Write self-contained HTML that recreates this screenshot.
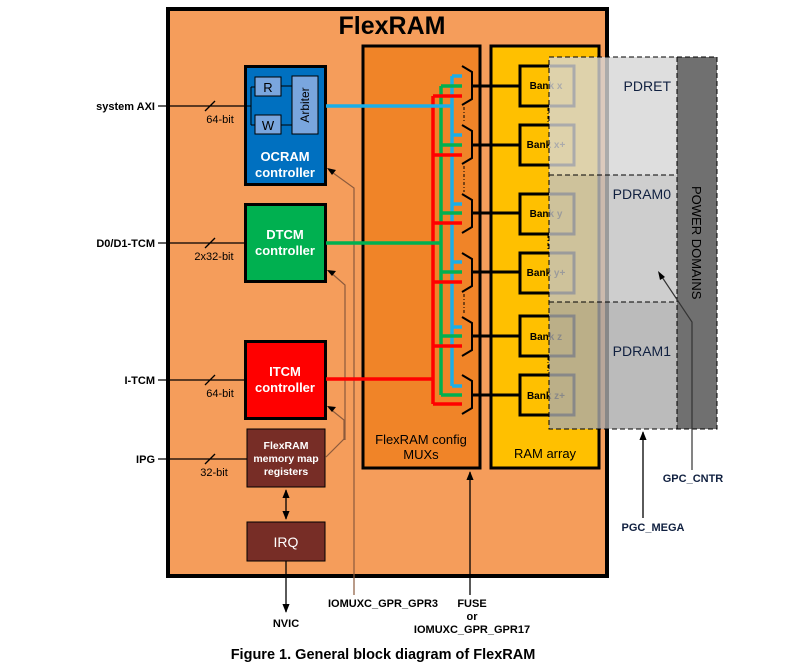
<!DOCTYPE html>
<html><head><meta charset="utf-8"><style>
html,body{margin:0;padding:0;background:#fff;width:810px;height:670px;overflow:hidden}
svg text{font-family:"Liberation Sans",Arial,sans-serif}
</style></head><body>
<svg width="810" height="670" viewBox="0 0 810 670" xmlns="http://www.w3.org/2000/svg">
<defs>
<marker id="ah" viewBox="0 0 10 10" refX="9" refY="5" markerWidth="7" markerHeight="7" orient="auto-start-reverse"><path d="M0,1 L10,5 L0,9 z" fill="#000"/></marker>
</defs>
<!-- outer -->
<rect x="168" y="9" width="439" height="567" fill="#F59D5B" stroke="#000" stroke-width="4"/>
<text x="392" y="34" font-size="25" font-weight="bold" text-anchor="middle">FlexRAM</text>
<!-- mux column -->
<rect x="363" y="46" width="117" height="422" fill="#F08428" stroke="#000" stroke-width="3"/>
<text x="421" y="444" font-size="13" text-anchor="middle">FlexRAM config</text>
<text x="421" y="459" font-size="13" text-anchor="middle">MUXs</text>
<!-- ram array -->
<rect x="491" y="46" width="108" height="422" fill="#FFC000" stroke="#000" stroke-width="3"/>
<text x="545" y="458" font-size="13" text-anchor="middle">RAM array</text>

<!-- external lines -->
<g stroke="#000" stroke-width="1.3">
<line x1="158" y1="106" x2="245" y2="106"/><line x1="205" y1="111" x2="215" y2="101"/>
<line x1="158" y1="243" x2="245" y2="243"/><line x1="205" y1="248" x2="215" y2="238"/>
<line x1="158" y1="380" x2="245" y2="380"/><line x1="205" y1="385" x2="215" y2="375"/>
<line x1="158" y1="459" x2="247" y2="459"/><line x1="205" y1="464" x2="215" y2="454"/>
</g>
<g font-size="11" font-weight="bold" fill="#000">
<text x="155" y="110" text-anchor="end">system AXI</text>
<text x="155" y="247" text-anchor="end">D0/D1-TCM</text>
<text x="155" y="384" text-anchor="end">I-TCM</text>
<text x="155" y="463" text-anchor="end">IPG</text>
<text x="220" y="123" text-anchor="middle" font-weight="normal">64-bit</text>
<text x="214" y="260" text-anchor="middle" font-weight="normal">2x32-bit</text>
<text x="220" y="397" text-anchor="middle" font-weight="normal">64-bit</text>
<text x="214" y="476" text-anchor="middle" font-weight="normal">32-bit</text>
</g>

<!-- OCRAM -->
<rect x="245.5" y="66.5" width="80" height="118" fill="#0070C0" stroke="#000" stroke-width="3"/>
<g stroke="#000" stroke-width="1" fill="none">
<polyline points="247,106 251,106"/><line x1="251" y1="87" x2="251" y2="125"/>
<line x1="251" y1="87" x2="255" y2="87"/><line x1="251" y1="125" x2="255" y2="125"/>
<line x1="281" y1="86" x2="292" y2="86"/><line x1="281" y1="125" x2="292" y2="125"/>
</g>
<rect x="255" y="77" width="26" height="19" fill="#7AA6DE" stroke="#000"/>
<rect x="255" y="115" width="26" height="19" fill="#7AA6DE" stroke="#000"/>
<rect x="292" y="76" width="26" height="58" fill="#7AA6DE" stroke="#000"/>
<text x="268" y="92" font-size="13" text-anchor="middle">R</text>
<text x="268" y="130" font-size="13" text-anchor="middle">W</text>
<text x="0" y="0" font-size="12" text-anchor="middle" transform="translate(309,105) rotate(-90)">Arbiter</text>
<text x="285" y="161" font-size="13" font-weight="bold" fill="#fff" text-anchor="middle">OCRAM</text>
<text x="285" y="177" font-size="13" font-weight="bold" fill="#fff" text-anchor="middle">controller</text>
<!-- DTCM -->
<rect x="245.5" y="204.5" width="80" height="77" fill="#00B050" stroke="#000" stroke-width="3"/>
<text x="285" y="239" font-size="13" font-weight="bold" fill="#fff" text-anchor="middle">DTCM</text>
<text x="285" y="255" font-size="13" font-weight="bold" fill="#fff" text-anchor="middle">controller</text>
<!-- ITCM -->
<rect x="245.5" y="341.5" width="80" height="77" fill="#FF0000" stroke="#000" stroke-width="3"/>
<text x="285" y="376" font-size="13" font-weight="bold" fill="#fff" text-anchor="middle">ITCM</text>
<text x="285" y="392" font-size="13" font-weight="bold" fill="#fff" text-anchor="middle">controller</text>
<!-- registers -->
<rect x="247" y="429" width="78" height="58" fill="#772D26" stroke="#000"/>
<text x="286" y="449" font-size="10.5" font-weight="bold" fill="#fff" text-anchor="middle">FlexRAM</text>
<text x="286" y="462" font-size="10.5" font-weight="bold" fill="#fff" text-anchor="middle">memory map</text>
<text x="286" y="475" font-size="10.5" font-weight="bold" fill="#fff" text-anchor="middle">registers</text>
<!-- IRQ -->
<rect x="247" y="522" width="78" height="39" fill="#772D26" stroke="#000"/>
<text x="286" y="547" font-size="14" fill="#fff" text-anchor="middle">IRQ</text>
<line x1="286" y1="490" x2="286" y2="519" stroke="#000" stroke-width="1.3" marker-start="url(#ah)" marker-end="url(#ah)"/>
<line x1="286" y1="561" x2="286" y2="612" stroke="#000" stroke-width="1.3" marker-end="url(#ah)"/>
<text x="286" y="627" font-size="11" font-weight="bold" text-anchor="middle">NVIC</text>

<!-- GPR3 lines -->
<g stroke="#8B5A3C" stroke-width="1.2" fill="none">
<polyline points="354,595 354,188 329,170"/>
<polyline points="345,440 345,285 329,271"/>
<polyline points="344,440 344,420 329,408"/>
<polyline points="345,438 326,457"/>
</g>
<g fill="#000">
<path d="M327,168 l9,2 -4,5 z"/>
<path d="M327,270 l9,1 -4,5 z"/>
<path d="M327,406 l9,1 -4,5 z"/>
</g>
<text x="383" y="607" font-size="11" font-weight="bold" text-anchor="middle">IOMUXC_GPR_GPR3</text>
<line x1="470" y1="595" x2="470" y2="472" stroke="#000" stroke-width="1.3" marker-end="url(#ah)"/>
<text x="472" y="607" font-size="11" font-weight="bold" text-anchor="middle">FUSE</text>
<text x="472" y="620" font-size="11" font-weight="bold" text-anchor="middle">or</text>
<text x="472" y="633" font-size="11" font-weight="bold" text-anchor="middle">IOMUXC_GPR_GPR17</text>

<!-- buses -->
<g stroke-width="3.5" fill="none">
<polyline stroke="#FF0000" points="326,379 433,379"/>
<line stroke="#FF0000" x1="433" y1="96" x2="433" y2="404"/>
<polyline stroke="#00B050" points="326,243 441,243"/>
<line stroke="#00B050" x1="441" y1="86" x2="441" y2="395"/>
<polyline stroke="#1AAEE8" points="326,106 452,106"/>
<line stroke="#1AAEE8" x1="452" y1="76" x2="452" y2="386"/>
<g stroke="#FF0000"><line x1="433" y1="96" x2="462" y2="96"/><line x1="433" y1="155" x2="462" y2="155"/><line x1="433" y1="223" x2="462" y2="223"/><line x1="433" y1="282" x2="462" y2="282"/><line x1="433" y1="346" x2="462" y2="346"/><line x1="433" y1="404" x2="462" y2="404"/></g>
<g stroke="#00B050"><line x1="441" y1="86" x2="462" y2="86"/><line x1="441" y1="145" x2="462" y2="145"/><line x1="441" y1="213" x2="462" y2="213"/><line x1="441" y1="272" x2="462" y2="272"/><line x1="441" y1="336" x2="462" y2="336"/><line x1="441" y1="395" x2="462" y2="395"/></g>
<g stroke="#1AAEE8"><line x1="452" y1="76" x2="462" y2="76"/><line x1="452" y1="135" x2="462" y2="135"/><line x1="452" y1="204" x2="462" y2="204"/><line x1="452" y1="262" x2="462" y2="262"/><line x1="452" y1="327" x2="462" y2="327"/><line x1="452" y1="386" x2="462" y2="386"/></g>
</g>
<!-- muxes & outputs -->
<g stroke="#000" stroke-width="2" fill="none">
<path d="M462,66 L472,72 L472,99 L462,105"/>
<path d="M462,125 L472,131 L472,158 L462,164"/>
<path d="M462,194 L472,200 L472,227 L462,233"/>
<path d="M462,253 L472,259 L472,286 L462,292"/>
<path d="M462,317 L472,323 L472,350 L462,356"/>
<path d="M462,375 L472,381 L472,408 L462,414"/>
</g>
<g stroke="#000" stroke-width="1" stroke-dasharray="3,2,1,2">
<line x1="464" y1="107" x2="464" y2="123"/><line x1="464" y1="294" x2="464" y2="315"/><line x1="464" y1="166" x2="464" y2="192"/>
<line x1="548" y1="108" x2="548" y2="123"/><line x1="548" y1="235" x2="548" y2="251"/><line x1="548" y1="357" x2="548" y2="373"/>
</g>
<g stroke="#000" stroke-width="3">
<line x1="472" y1="86" x2="519" y2="86"/><line x1="472" y1="145" x2="519" y2="145"/>
<line x1="472" y1="213" x2="519" y2="213"/><line x1="472" y1="272" x2="519" y2="272"/>
<line x1="472" y1="336" x2="519" y2="336"/><line x1="472" y1="395" x2="519" y2="395"/>
</g>
<!-- banks -->
<g fill="#FFC000" stroke="#000" stroke-width="3">
<rect x="520" y="66" width="54" height="40"/><rect x="520" y="125" width="54" height="40"/>
<rect x="520" y="194" width="54" height="40"/><rect x="520" y="253" width="54" height="40"/>
<rect x="520" y="316" width="54" height="40"/><rect x="520" y="375" width="54" height="40"/>
</g>
<g font-size="10" font-weight="bold" text-anchor="middle">
<text x="546" y="89">Bank x</text><text x="546" y="148">Bank x+</text>
<text x="546" y="217">Bank y</text><text x="546" y="276">Bank y+</text>
<text x="546" y="340">Bank z</text><text x="546" y="399">Bank z+</text>
</g>
<!-- power domains -->
<rect x="549" y="57" width="128" height="118" fill="rgb(214,214,214)" fill-opacity="0.8"/>
<rect x="549" y="175" width="128" height="127" fill="rgb(194,194,194)" fill-opacity="0.8"/>
<rect x="549" y="302" width="128" height="127" fill="rgb(170,170,170)" fill-opacity="0.8"/>
<rect x="677" y="57" width="40" height="372" fill="#707070"/>
<g stroke="#000" stroke-width="1" stroke-dasharray="5,3" fill="none">
<rect x="549" y="57" width="168" height="372"/>
<line x1="549" y1="175" x2="677" y2="175"/><line x1="549" y1="302" x2="677" y2="302"/>
<line x1="677" y1="57" x2="677" y2="429"/>
</g>
<g font-size="14" fill="#102040">
<text x="671" y="91" text-anchor="end">PDRET</text>
<text x="671" y="199" text-anchor="end">PDRAM0</text>
<text x="671" y="356" text-anchor="end">PDRAM1</text>
<text x="0" y="0" font-size="13" transform="translate(692,186) rotate(90)" fill="#000">POWER DOMAINS</text>
</g>
<polyline points="692,470 692,322 660,274" stroke="#333" stroke-width="1.2" fill="none"/>
<path d="M658,271 l2,9 5,-3 z" fill="#000"/>
<text x="693" y="482" font-size="11" font-weight="bold" text-anchor="middle" fill="#102040">GPC_CNTR</text>
<line x1="643" y1="518" x2="643" y2="432" stroke="#000" stroke-width="1.3" marker-end="url(#ah)"/>
<text x="653" y="531" font-size="11" font-weight="bold" text-anchor="middle" fill="#102040">PGC_MEGA</text>
<text x="383" y="659" font-size="14.5" font-weight="bold" text-anchor="middle">Figure 1.  General block diagram of FlexRAM</text>
</svg>
</body></html>
